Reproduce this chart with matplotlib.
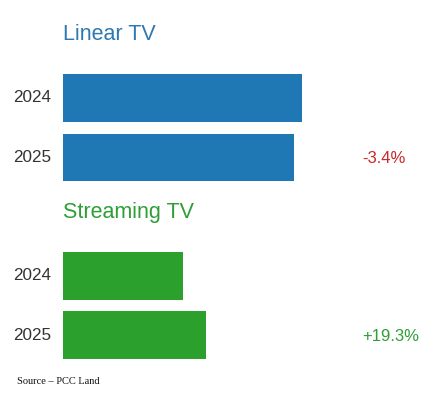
import matplotlib
matplotlib.use("Agg")
import matplotlib.pyplot as plt

groups = ["Linear TV", "Streaming TV"]
years = ["2024", "2025"]
linear_values = [100.0, 96.6]
streaming_values = [50.0, 59.7]
changes = ["-3.4%", "+19.3%"]

bar_colors = ["#1f77b4", "#2ca02c"]
title_colors = ["#2f78b0", "#2e9e36"]
change_colors = ["#c8282a", "#2e9e36"]

W, H = 447, 393
fig = plt.figure(figsize=(W / 100, H / 100), dpi=100)
ax = fig.add_axes([63 / W, 0, 1 - 63 / W, 1])
unit = 59.3
top_center = 98
ax.set_ylim((H - top_center) / unit, -top_center / unit)
ax.set_xlim(0, (W - 63) / 2.39)
ax.axis("off")

series = [linear_values, streaming_values]
for g, (name, vals) in enumerate(zip(groups, series)):
    base = g * 3
    pos = [base, base + 1]
    ax.barh(pos, vals, height=0.8, color=bar_colors[g])
    ax.text(0, base - 1.07, name, color=title_colors[g], fontsize=15.5,
            ha="left", va="center", family="Liberation Sans")
    for p, y in zip(pos, years):
        ax.text(-12 / 2.39, p, y, color="#333333", fontsize=12.3,
                ha="right", va="center", family="Liberation Sans")
    ax.text(299 / 2.39, base + 1.02, changes[g], color=change_colors[g],
            fontsize=12.0, ha="left", va="center", family="Liberation Sans")

fig.text(17 / W, 1 - 381 / H, "Source \u2013 PCC Land", fontsize=7.5,
         family="Liberation Serif", ha="left", va="center", color="#111111")

fig.savefig("out.png", dpi=100)
